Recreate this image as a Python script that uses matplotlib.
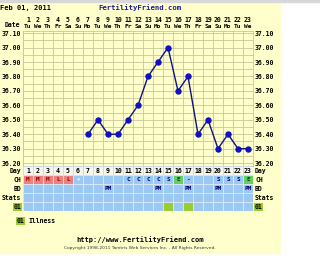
import matplotlib
matplotlib.use("Agg")
from matplotlib import pyplot as plt
from matplotlib import transforms
import numpy as np

# chart data
days = list(range(1, 24))
weekdays = ["Tu", "We", "Th", "Fr", "Sa", "Su", "Mo"] * 4
weekdays = weekdays[:23]
temp_days = [7, 8, 9, 10, 11, 12, 13, 14, 15, 16, 17, 18, 19, 20, 21, 22, 23]
temps = [36.40, 36.50, 36.40, 36.40, 36.50, 36.60, 36.80, 36.90, 37.00,
         36.70, 36.80, 36.40, 36.50, 36.30, 36.40, 36.30, 36.30]
temp_labels = ["36.20", "36.30", "36.40", "36.50", "36.60", "36.70",
               "36.80", "36.90", "37.00", "37.10"]
ch_codes = ["M", "M", "M", "L", "L", "*", "", "", "", "", "C", "C", "C", "C",
            "S", "E", "-", "", "", "S", "S", "S", "E"]
bd_codes = ["", "", "", "", "", "", "", "", "PM", "", "", "", "", "PM",
            "", "", "PM", "", "", "PM", "", "", "PM"]
illness_days = [15, 17]
row_names = ["Day", "CH", "BD", "Stats", "01"]

YEL = "#ffffcc"
BLUE = "#9cc8f4"
RED = "#ee8080"
GREEN = "#66cc66"
ILL = "#99cc33"
GRID = "#c8c89c"
W, H = 320, 266
mono = {"family": "DejaVu Sans Mono", "weight": "bold"}
FS = 4.7


def box(x0, y0, x1, y1):
    return [x0 / W, 1 - y1 / H, (x1 - x0) / W, (y1 - y0) / H]


fig = plt.figure(figsize=(3.2, 2.66), dpi=100)
fig.patch.set_facecolor("white")

# background / free text layer in pixel coords
bg = fig.add_axes([0, 0, 1, 1])
bg.set_xlim(0, W)
bg.set_ylim(H, 0)
bg.axis("off")
bg.add_patch(plt.Rectangle((0, 0), 280, 253, color=YEL, zorder=0))
bg.add_patch(plt.Rectangle((0, 0), 320, 1.5, color="#d8d8d8", zorder=0))

bg.text(0.5, 8, "Feb 01, 2011", fontsize=5, va="center", **mono)
bg.text(98, 8, "FertilityFriend.com", fontsize=5.2, va="center",
        color="#1a1a9c", **mono)
bg.text(20.5, 25, "Date", fontsize=FS, ha="right", va="center", **mono)

# temperature chart
ax = fig.add_axes(box(23, 31, 253, 166))
ax.set_facecolor(YEL)
ax.set_xlim(0.5, 23.5)
ax.set_ylim(36.18, 37.115)
ax.set_xticks(np.arange(0.5, 24, 1))
ax.set_yticks([float(t) for t in temp_labels])
ax.set_yticklabels(temp_labels)
ax.set_yticks(np.arange(36.25, 37.1, 0.1), minor=True)
ax.grid(True, which="both", color=GRID, lw=0.6)
ax.tick_params(axis="both", which="both", length=0)
ax.tick_params(axis="x", labelbottom=False)
ax.tick_params(axis="y", labelleft=True, labelright=True, pad=1.2)
for lab in ax.get_yticklabels():
    lab.set_fontproperties({"family": "DejaVu Sans Mono", "weight": "bold",
                            "size": FS})
for s in ax.spines.values():
    s.set_color(GRID)
    s.set_linewidth(0.6)
ax.plot(temp_days, temps, color="#101080", lw=1.0, marker="o", ms=3.6,
        mfc="#1010c0", mec="#1010c0", zorder=3)

# header day numbers / weekdays
tr = transforms.blended_transform_factory(ax.transData, bg.transData)
for d, wd in zip(days, weekdays):
    bg.text(d, 20, str(d), transform=tr, fontsize=FS, ha="center",
            va="center", **mono)
    bg.text(d, 26, wd, transform=tr, fontsize=4.4, ha="center",
            va="center", **mono)

# bottom table
tab = fig.add_axes(box(23, 166, 253, 211))
tab.set_xlim(0.5, 23.5)
tab.set_ylim(5, 0)
tab.axis("off")
day_cols = ["#f6f6ee"] * 23
ch_cols = [RED if c in ("M", "L") else BLUE for c in ch_codes]
ch_cols = [GREEN if c == "E" else col for c, col in zip(ch_codes, ch_cols)]
ill_cols = [ILL if d in illness_days else BLUE for d in days]
rows = [day_cols, ch_cols, [BLUE] * 23, [BLUE] * 23, ill_cols]
for r, cols in enumerate(rows):
    tab.barh(r + 0.5, 1, left=np.array(days) - 0.5, height=1, color=cols,
             edgecolor="#dce8f4" if r else "#c8d8e8", lw=0.6)
for d in days:
    tab.text(d, 0.55, str(d), fontsize=FS, ha="center", va="center", **mono)
for d, c in zip(days, ch_codes):
    if c:
        col = "#880000" if c in ("M", "L") else ("#004400" if c == "E" else "#000066")
        if c == "*":
            col = "white"
        tab.text(d, 1.55, c, fontsize=4.3, ha="center", va="center",
                 color=col, **mono)
for d, c in zip(days, bd_codes):
    if c:
        tab.text(d, 2.55, c, fontsize=4.3, ha="center", va="center",
                 color="#000066", **mono)

rtr = transforms.blended_transform_factory(bg.transData, tab.transData)
for r, name in enumerate(row_names):
    kw = dict(fontsize=FS, va="center", transform=rtr, **mono)
    if name == "01":
        kw["bbox"] = dict(boxstyle="square,pad=0.1", fc=ILL, ec="none")
    bg.text(21, r + 0.55, name, ha="right", **kw)
    bg.text(255, r + 0.55, name, ha="left", **kw)

# legend and footer
bg.text(17, 221, "01", fontsize=FS, va="center",
        bbox=dict(boxstyle="square,pad=0.1", fc=ILL, ec="none"), **mono)
bg.text(28, 221, "Illness", fontsize=FS, va="center", **mono)
bg.text(140, 240, "http://www.FertilityFriend.com", fontsize=5,
        ha="center", va="center", **mono)
bg.text(140, 248, "Copyright 1998-2011 Tamtris Web Services Inc. - All Rights Reserved.",
        fontsize=3.2, ha="center", va="center", color="#333333",
        family="DejaVu Sans")

fig.savefig("out.png", dpi=100, facecolor="white")
